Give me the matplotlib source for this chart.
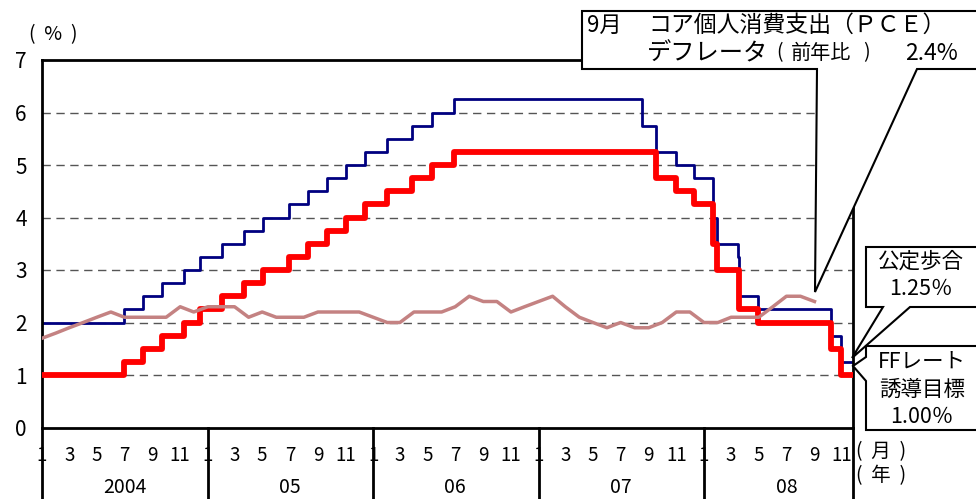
import matplotlib
matplotlib.use("Agg")
import matplotlib.pyplot as plt
import pandas as pd
from matplotlib.patches import Polygon

plt.rcParams['font.family'] = ['Noto Sans CJK JP', 'DejaVu Sans']

# FF rate target (policy change dates, %)
ff_dates = ["2004-01-01", "2004-06-30", "2004-08-10", "2004-09-21", "2004-11-10", "2004-12-14",
            "2005-02-02", "2005-03-22", "2005-05-03", "2005-06-30", "2005-08-09", "2005-09-20",
            "2005-11-01", "2005-12-13", "2006-01-31", "2006-03-28", "2006-05-10", "2006-06-29",
            "2007-09-18", "2007-10-31", "2007-12-11", "2008-01-22", "2008-01-30", "2008-03-18",
            "2008-04-30", "2008-10-08", "2008-10-29"]
ff_rate = [1.00, 1.25, 1.50, 1.75, 2.00, 2.25,
           2.50, 2.75, 3.00, 3.25, 3.50, 3.75,
           4.00, 4.25, 4.50, 4.75, 5.00, 5.25,
           4.75, 4.50, 4.25, 3.50, 3.00, 2.25,
           2.00, 1.50, 1.00]

# discount rate (公定歩合)
disc_dates = ["2004-01-01", "2004-06-30", "2004-08-10", "2004-09-21", "2004-11-10", "2004-12-14",
              "2005-02-02", "2005-03-22", "2005-05-03", "2005-06-30", "2005-08-09", "2005-09-20",
              "2005-11-01", "2005-12-13", "2006-01-31", "2006-03-28", "2006-05-10", "2006-06-29",
              "2007-08-17", "2007-09-18", "2007-10-31", "2007-12-11", "2008-01-22", "2008-01-30",
              "2008-03-16", "2008-03-18", "2008-04-30", "2008-10-08", "2008-10-29"]
disc_rate = [2.00, 2.25, 2.50, 2.75, 3.00, 3.25,
             3.50, 3.75, 4.00, 4.25, 4.50, 4.75,
             5.00, 5.25, 5.50, 5.75, 6.00, 6.25,
             5.75, 5.25, 5.00, 4.75, 4.00, 3.50,
             3.25, 2.50, 2.25, 1.75, 1.25]

# core PCE deflator, y/y %, monthly from 2004-01
pce_start = "2004-01-01"
pce_vals = [1.7, 1.8, 1.9, 2.0, 2.1, 2.2, 2.1, 2.1, 2.1, 2.1, 2.3, 2.2,
            2.3, 2.3, 2.3, 2.1, 2.2, 2.1, 2.1, 2.1, 2.2, 2.2, 2.2, 2.2,
            2.1, 2.0, 2.0, 2.2, 2.2, 2.2, 2.3, 2.5, 2.4, 2.4, 2.2, 2.3,
            2.4, 2.5, 2.3, 2.1, 2.0, 1.9, 2.0, 1.9, 1.9, 2.0, 2.2, 2.2,
            2.0, 2.0, 2.1, 2.1, 2.1, 2.3, 2.5, 2.5, 2.4]

years = ["2004", "05", "06", "07", "08"]
month_labels = [1, 3, 5, 7, 9, 11]
x_start = pd.Timestamp("2004-01-01")
x_end = pd.Timestamp("2008-11-25")

W, H = 976, 499


def fp(x, y):
    # pixel -> figure fraction
    return (x / W, 1 - y / H)


fig = plt.figure(figsize=(W / 100, H / 100), dpi=100)
ax = fig.add_axes([42 / W, 1 - 427.5 / H, (853 - 42) / W, (427.5 - 60) / H])

for y in range(1, 7):
    ax.axhline(y, color='#555555', lw=1, dashes=(6, 4), zorder=1)

dx = list(pd.to_datetime(disc_dates)) + [x_end]
ax.step(dx, disc_rate + [disc_rate[-1]], where='post', color='#000080', lw=2, zorder=2)
fx = list(pd.to_datetime(ff_dates)) + [x_end]
ax.step(fx, ff_rate + [ff_rate[-1]], where='post', color='#ff0000', lw=4.2, zorder=3)
px = pd.date_range(pce_start, periods=len(pce_vals), freq='MS')
ax.plot(px, pce_vals, color='#c48282', lw=2.5, zorder=4)

ax.set_xlim(x_start, x_end)
ax.set_ylim(0, 7)
ax.set_yticks(range(0, 8))
ax.tick_params(axis='y', length=0, pad=11, labelsize=15)
ax.set_xticks([])
for s in ax.spines.values():
    s.set_linewidth(2)

# month / year category labels below the axis
tr = ax.get_xaxis_transform()
for i, yr in enumerate(years):
    y0 = 2004 + i
    for m in month_labels:
        d = pd.Timestamp(year=y0, month=m, day=1)
        ax.text(d, -0.075, str(m), transform=tr, ha='center', va='center', fontsize=13.5)
    mid = pd.Timestamp(year=y0, month=7, day=1)
    ax.text(mid, -0.163, yr, transform=tr, ha='center', va='center', fontsize=14)
    d0 = pd.Timestamp(year=y0, month=1, day=1)
    ax.plot([d0, d0], [0, -0.2], transform=tr, color='black', lw=2, clip_on=False)
ax.plot([x_end, x_end], [0, -0.2], transform=tr, color='black', lw=2, clip_on=False)

fig.text(*fp(53, 35), '(  %  )', ha='center', va='center', fontsize=14)
fig.text(*fp(856, 452), '(  月  )', ha='left', va='center', fontsize=14)
fig.text(*fp(856, 476), '(  年  )', ha='left', va='center', fontsize=14)

# callouts
def callout(pts):
    poly = Polygon([fp(x, y) for x, y in pts], closed=True, transform=fig.transFigure,
                   facecolor='white', edgecolor='black', lw=1.5, zorder=5)
    fig.add_artist(poly)

callout([(582, 11), (990, 11), (990, 69), (917, 69), (815, 292), (817, 69), (582, 69)])
callout([(866, 247), (990, 247), (990, 307), (910, 307), (852, 358), (883, 307), (866, 307)])
callout([(866, 346), (990, 346), (990, 430), (866, 430), (866, 381), (853, 366), (866, 357)])

fig.text(*fp(587, 25), '9月', ha='left', va='center', fontsize=16, zorder=6)
fig.text(*fp(648, 25), 'コア個人消費支出（ＰＣＥ）', ha='left', va='center', fontsize=16.5, zorder=6)
fig.text(*fp(647, 53), 'デフレータ', ha='left', va='center', fontsize=17.5, zorder=6)
fig.text(*fp(780, 53), '(', ha='center', va='center', fontsize=14, zorder=6)
fig.text(*fp(821, 53), '前年比', ha='center', va='center', fontsize=14.5, zorder=6)
fig.text(*fp(866, 53), ')', ha='center', va='center', fontsize=14, zorder=6)
fig.text(*fp(958, 53), '2.4%', ha='right', va='center', fontsize=16.5, zorder=6)

fig.text(*fp(921, 262), '公定歩合', ha='center', va='center', fontsize=15.5, zorder=6)
fig.text(*fp(921, 289), '1.25％', ha='center', va='center', fontsize=15.5, zorder=6)
fig.text(*fp(922, 362), 'FFレート', ha='center', va='center', fontsize=15.5, zorder=6)
fig.text(*fp(922, 390), '誘導目標', ha='center', va='center', fontsize=15.5, zorder=6)
fig.text(*fp(922, 417), '1.00％', ha='center', va='center', fontsize=15.5, zorder=6)

fig.savefig('out.png', dpi=100)
